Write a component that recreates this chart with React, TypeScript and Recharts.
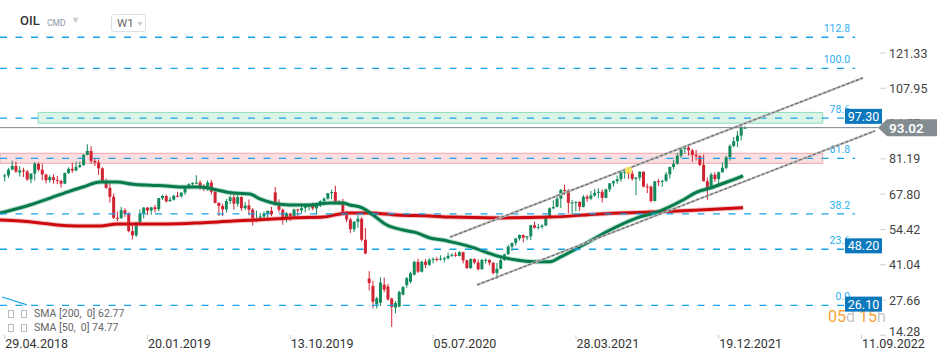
import React from 'react';
import { ComposedChart, Bar, Line, XAxis, YAxis, ReferenceLine, ReferenceArea, ReferenceDot } from 'recharts';

// weekly candles [open, high, low, close]; week 0 starts 29.04.2018
const candles2018 = [
  [74.6, 75.5, 72.6, 74.9], [74.9, 77.8, 73.9, 77.1], [77.1, 80.5, 76.9, 78.5], [78.5, 80.1, 75.8, 76.4],
  [76.0, 78.4, 74.5, 76.8], [76.8, 77.8, 74.3, 76.5], [76.4, 77.0, 72.8, 73.4], [73.4, 75.7, 71.9, 75.6],
  [75.6, 79.9, 73.0, 79.4], [79.3, 79.8, 76.5, 77.1], [77.1, 79.4, 73.1, 75.3], [75.2, 75.6, 71.9, 73.1],
  [73.1, 75.0, 72.2, 74.3], [74.2, 75.3, 71.8, 73.2], [73.2, 74.7, 71.6, 72.8], [72.8, 73.3, 70.3, 71.8],
  [71.8, 76.0, 71.6, 75.8], [75.8, 78.0, 75.5, 77.4], [77.4, 79.7, 75.9, 76.8], [76.8, 80.1, 76.4, 78.1],
  [78.1, 80.1, 77.7, 78.8], [78.8, 83.0, 78.5, 82.7], [82.7, 86.7, 82.5, 84.2], [84.2, 86.0, 79.4, 80.4],
  [80.4, 81.5, 78.5, 79.8], [79.8, 80.9, 75.1, 77.6], [77.6, 78.0, 72.2, 72.8], [72.8, 73.7, 69.8, 70.2],
  [70.2, 72.0, 64.6, 66.8], [66.8, 68.0, 58.4, 58.8], [58.8, 61.3, 57.5, 58.7], [58.7, 63.0, 58.4, 61.7],
  [61.7, 62.4, 59.1, 60.3], [60.3, 60.9, 53.3, 53.8], [53.8, 56.1, 50.6, 52.2],
];
const candles2019 = [
  [52.2, 57.3, 51.6, 57.1], [57.1, 62.0, 56.9, 60.5], [60.5, 62.9, 58.6, 62.7], [62.7, 62.9, 59.9, 61.6],
  [61.6, 63.0, 60.0, 62.8], [62.8, 63.7, 60.9, 62.1], [62.1, 66.4, 61.3, 66.3], [66.3, 67.6, 65.6, 67.1],
  [67.1, 67.7, 64.6, 65.1], [65.1, 66.8, 64.9, 65.7], [65.7, 67.6, 65.4, 67.2], [67.2, 68.7, 66.6, 67.0],
  [67.0, 68.4, 66.5, 68.4], [68.4, 70.4, 67.5, 70.3], [70.3, 71.9, 69.9, 71.6], [71.6, 72.3, 70.4, 72.0],
  [72.0, 75.0, 71.6, 72.2], [72.2, 73.0, 69.5, 70.9], [70.9, 71.6, 68.9, 70.6], [70.6, 73.0, 69.1, 72.2],
  [72.2, 73.2, 67.7, 68.7], [68.7, 70.1, 64.3, 64.5], [64.5, 64.7, 59.5, 63.3], [63.3, 64.2, 59.5, 62.0],
  [62.0, 66.0, 60.8, 65.2], [65.2, 67.2, 64.0, 66.6], [66.6, 67.6, 61.9, 64.2], [64.2, 67.5, 63.1, 66.7],
  [66.7, 67.0, 61.5, 62.5], [62.5, 64.8, 61.8, 63.5], [63.5, 65.8, 59.8, 61.9], [61.9, 62.5, 55.9, 58.5],
  [58.5, 61.6, 57.3, 58.6], [58.6, 60.7, 58.2, 59.3], [59.3, 61.2, 57.9, 60.4], [60.4, 61.5, 57.8, 61.5],
  [61.5, 63.0, 59.5, 60.2], [68.5, 70.5, 63.5, 64.3], [64.3, 65.8, 60.9, 61.9], [61.9, 62.3, 56.2, 58.4],
  [58.4, 61.0, 57.1, 60.5], [60.5, 60.6, 57.6, 59.4], [59.4, 62.3, 58.4, 62.0], [62.0, 62.3, 58.9, 61.7],
  [61.7, 63.5, 60.6, 62.5], [62.5, 63.3, 60.9, 63.3], [63.3, 64.0, 61.7, 63.4], [63.4, 64.6, 61.7, 62.4],
  [62.4, 64.6, 60.0, 64.4], [64.4, 65.5, 62.9, 65.2], [65.2, 66.5, 64.8, 66.1], [66.1, 68.2, 65.7, 68.2],
];
const candles2020 = [
  [68.2, 69.5, 65.9, 68.6], [68.6, 71.0, 64.3, 65.0], [65.0, 65.5, 63.7, 64.9], [64.9, 66.0, 60.5, 60.7],
  [60.7, 61.5, 57.1, 58.2], [58.2, 58.9, 53.1, 54.5], [54.5, 57.6, 53.4, 57.3], [57.3, 59.8, 55.1, 58.5],
  [58.5, 59.1, 49.9, 50.5], [50.5, 55.0, 45.0, 45.3], [35.8, 38.6, 31.3, 34.1], [33.0, 35.0, 24.5, 27.0],
  [26.0, 28.9, 24.4, 28.3], [26.6, 36.3, 25.4, 34.3], [33.5, 36.2, 30.6, 31.6], [32.8, 33.8, 27.4, 27.9],
  [28.2, 28.6, 17.4, 25.0], [24.8, 27.3, 22.6, 26.5], [25.2, 31.2, 24.9, 30.7], [29.7, 33.0, 29.4, 32.6],
  [33.3, 36.4, 32.3, 35.9], [34.6, 38.4, 34.0, 37.8], [37.3, 42.6, 36.9, 42.1], [42.1, 43.3, 37.9, 38.4],
  [38.4, 42.6, 38.1, 42.2], [42.2, 43.2, 39.8, 41.0], [41.0, 43.5, 40.6, 42.9], [42.9, 43.9, 41.5, 43.2],
  [43.2, 44.0, 42.3, 43.1], [43.1, 44.6, 42.6, 43.4], [43.4, 44.0, 41.9, 43.5], [43.5, 45.6, 43.0, 44.4],
  [44.4, 45.3, 44.0, 44.8], [44.8, 45.8, 44.0, 44.4], [44.4, 46.2, 44.2, 45.8], [45.8, 46.0, 41.5, 42.7],
  [42.7, 43.0, 39.4, 39.8], [39.8, 43.5, 39.4, 43.2], [43.2, 43.4, 41.2, 41.9], [41.9, 43.0, 38.9, 39.3],
  [39.3, 43.2, 39.2, 42.9], [42.8, 43.5, 41.5, 42.9], [42.9, 43.0, 40.7, 41.8], [41.8, 42.0, 37.3, 37.9],
  [37.9, 41.7, 35.7, 39.5], [39.5, 44.4, 39.4, 42.8], [42.8, 45.2, 42.5, 45.0], [45.0, 48.6, 44.8, 47.9],
  [47.9, 49.4, 46.2, 49.3], [49.3, 51.2, 48.3, 51.0], [51.0, 52.5, 50.2, 52.3], [52.3, 52.5, 49.5, 51.3],
  [51.3, 51.9, 50.3, 51.8],
];
const candles2021 = [
  [51.8, 56.2, 50.4, 56.0], [56.0, 57.4, 54.7, 55.1], [55.1, 56.6, 54.4, 55.4], [55.4, 56.4, 54.7, 55.9],
  [55.9, 59.8, 55.7, 59.3], [59.3, 62.8, 59.3, 62.4], [62.4, 65.5, 62.1, 62.9], [62.9, 67.7, 62.9, 66.1],
  [66.1, 69.8, 62.5, 69.4], [69.4, 71.4, 67.5, 69.2], [69.2, 69.7, 60.5, 64.5], [64.5, 65.6, 60.3, 64.6],
  [64.6, 65.0, 61.3, 64.9], [64.9, 65.0, 61.4, 63.0], [63.0, 67.5, 62.7, 66.8], [66.8, 67.6, 64.9, 66.1],
  [66.1, 69.0, 65.5, 67.3], [67.3, 69.8, 66.8, 68.3], [68.3, 70.0, 66.3, 68.7], [68.7, 69.6, 64.6, 66.4],
  [66.4, 69.9, 66.2, 69.6], [69.6, 72.0, 68.6, 71.9], [71.9, 73.0, 70.6, 72.7], [72.7, 74.9, 71.8, 73.5],
  [73.5, 76.2, 72.5, 76.2], [76.2, 76.6, 73.7, 76.2], [76.2, 77.8, 73.5, 75.6], [75.6, 76.8, 72.9, 73.6],
  [73.6, 74.2, 67.4, 74.1], [74.1, 76.5, 72.9, 76.3], [76.3, 76.4, 70.3, 70.7], [70.7, 71.8, 68.2, 70.6],
  [70.6, 71.2, 64.6, 65.2], [65.2, 72.7, 65.0, 72.7], [72.7, 73.6, 70.8, 72.6], [72.6, 73.2, 70.6, 72.9],
  [72.9, 76.2, 72.4, 75.3], [75.3, 78.3, 73.7, 78.1], [78.1, 80.8, 77.2, 79.3], [79.3, 83.5, 79.0, 82.4],
  [82.4, 85.1, 81.5, 84.9], [84.9, 86.1, 83.2, 85.5], [85.5, 86.7, 82.4, 84.4], [84.4, 85.0, 80.1, 82.7],
  [82.7, 84.6, 80.6, 82.2], [82.2, 82.6, 78.4, 78.9], [78.9, 82.8, 72.6, 72.7], [72.7, 74.1, 65.7, 69.9],
  [69.9, 76.0, 69.7, 75.2], [75.2, 76.1, 72.4, 73.5], [73.5, 76.4, 70.5, 76.1], [76.1, 79.8, 75.9, 77.8],
];
const candles2022 = [
  [77.8, 82.3, 77.2, 81.8], [81.8, 86.7, 80.5, 86.1], [86.1, 89.5, 85.6, 87.9], [87.9, 91.7, 85.7, 90.0],
  [90.0, 94.0, 88.2, 93.3], [92.9, 93.6, 92.6, 93.02],
];

// moving averages [week, value]
const sma200 = [
  [-1.25, 58.0], [4.1, 57.6], [9.4, 56.9], [13.9, 56.1], [19.2, 55.7], [25.4, 55.7], [29.9, 56.5],
  [36, 56.5], [43.2, 56.5], [52, 56.9], [60.8, 57.6], [67.1, 58.0], [75.9, 58.8], [84.7, 59.1],
  [89.2, 60.3], [91.9, 60.7], [97.2, 60.7], [104.4, 59.9], [113.2, 59.5], [118.5, 59.1], [131.8, 58.8],
  [145.1, 59.1], [158.4, 60.3], [171.7, 61.0], [185, 61.8], [196.5, 62.7],
];
const sma50 = [
  [-1.25, 60.6], [6.7, 63.7], [12.1, 66.3], [16.6, 68.6], [20.8, 70.5], [25.4, 72.4], [29.9, 72.4],
  [34.1, 71.6], [38.7, 71.2], [43.2, 70.9], [47.4, 70.5], [52, 70.5], [56.5, 69.4], [60.8, 68.2],
  [65.3, 67.9], [67.9, 66.0], [75.9, 63.7], [81.2, 63.7], [86.6, 64.4], [90, 64.4], [91.9, 63.7],
  [95.3, 62.5], [98, 59.9], [101.7, 56.1], [106, 54.2], [109.7, 53.1], [113.2, 51.2], [116.6, 50.4],
  [118.5, 49.8], [123.8, 47.9], [131.8, 44.1], [136.3, 42.8], [140.6, 42.2], [145.1, 42.2],
  [147.8, 43.9], [153.9, 48.5], [161.1, 54.2], [168.3, 58.8], [173.6, 61.0], [180.5, 65.6],
  [184.2, 68.6], [187.7, 70.1], [192.2, 72.4], [196.5, 74.77],
];

const dateTicks = [0, 38, 76, 114, 152, 190, 228];
const dateLabels = ['29.04.2018', '20.01.2019', '13.10.2019', '05.07.2020', '28.03.2021', '19.12.2021', '11.09.2022'];
const priceTicks = [14.28, 27.66, 41.04, 54.42, 67.8, 81.19, 94.57, 107.95, 121.33];

const fibNames = ['0.0', '23.6', '38.2', '61.8', '78.6', '100.0', '112.8'];
const fibPrices = [25.65, 46.9, 60.3, 81.4, 96.6, 115.5, 127.3];

const channelUpper = [[118.5, 51.5], [228.4, 111.9]];
const channelLower = [[125.7, 33.4], [231.6, 91.8]];
const blueSegment = [[-0.7, 28.8], [5.9, 25.8]];

const greenZone = [94.7, 98.8];
const pinkZone = [79.5, 83.3];
const priceTags = [26.1, 48.2, 97.3];
const lastPrice = 93.02;
const markerWeek = [166, 76.9];

const GREEN = '#138a5b';
const RED = '#d22333';
const FIB = '#17a3e8';
const X_MIN = -1.25;
const X_MAX = 232.4;
const LEVEL_END = 226.3;
const ZONE_END = 217.7;

const rows = [...candles2018, ...candles2019, ...candles2020, ...candles2021, ...candles2022].map(([o, h, l, c], i) => ({
  i, o, h, l, c, range: [l, h],
}));
const sma200Data = sma200.map(([i, v]) => ({ i, v }));
const sma50Data = sma50.map(([i, v]) => ({ i, v }));
// axis ticks: plain prices first, tags last so they paint on top
const axisTicks = [...priceTicks, ...priceTags, lastPrice];

const Candle = (props: any) => {
  const { x, y, width, height, payload } = props;
  if (!payload || height == null) return null;
  const { o, h, l, c } = payload;
  const color = c >= o ? GREEN : RED;
  const k = h === l ? 0 : height / (h - l);
  const top = y + (h - Math.max(o, c)) * k;
  const bot = y + (h - Math.min(o, c)) * k;
  const cx = x + width / 2;
  return (
    <g>
      <line x1={cx} x2={cx} y1={y} y2={y + height} stroke={color} strokeWidth={1} />
      <rect x={cx - 1.5} y={top} width={3} height={Math.max(1, bot - top)} fill={color} />
    </g>
  );
};

const DateTick = ({ x, y, payload }: any) => {
  const idx = dateTicks.indexOf(payload.value);
  return (
    <g>
      <line x1={x} x2={x} y1={y - 1} y2={y + 3} stroke="#ccc" />
      <text x={x + 0.5} y={y + 12} fontSize={12.5} fill="#333">{dateLabels[idx]}</text>
    </g>
  );
};

const PriceTick = ({ x, y, payload }: any) => {
  const v = payload.value;
  if (v === lastPrice) {
    return (
      <g>
        <polygon points={`${x},${y} ${x + 9},${y - 8.5} ${x + 59},${y - 8.5} ${x + 59},${y + 8.5} ${x + 9},${y + 8.5}`} fill="#838c91" />
        <text x={x + 11} y={y + 5} fontSize={13.5} fontWeight={600} fill="#fff">{v.toFixed(2)}</text>
      </g>
    );
  }
  if (priceTags.includes(v)) {
    return (
      <g>
        <rect x={x - 33} y={y - 7.5} width={37} height={15} fill="#0b78bd" />
        <text x={x - 14.5} y={y + 4.5} textAnchor="middle" fontSize={12.5} fill="#fff">{v.toFixed(2)}</text>
      </g>
    );
  }
  const dy = v === priceTicks[0] ? -3.5 : 0;
  return (
    <g>
      <line x1={x + 2} x2={x + 8} y1={y} y2={y} stroke="#d0d0d0" />
      <text x={x + 11} y={y + 4.5 + dy} fontSize={12.5} fill="#444">{v.toFixed(2)}</text>
    </g>
  );
};

const fibLabel = (name: string) => (props: any) => {
  const vb = props.viewBox;
  return (
    <text x={vb.x + vb.width - 5} y={vb.y - 5} textAnchor="end" fontSize={10.5} fill="#2aaef0">{name}</text>
  );
};

const Box = () => (
  <span style={{ display: 'inline-block', width: 4, height: 6, border: '1px solid #bbb', marginRight: 7, verticalAlign: 'middle' }} />
);

export default function App() {
  return (
    <div style={{ position: 'absolute', left: 0, top: 0, width: 950, height: 361, fontFamily: 'Roboto, sans-serif', background: '#fff' }}>
      <div style={{ position: 'absolute', left: 828, top: 308, fontSize: 16, lineHeight: '18px', whiteSpace: 'nowrap', zIndex: 0 }}>
        <span style={{ color: '#f7a336' }}>05</span>
        <span style={{ color: '#c8c8c8' }}>d </span>
        <span style={{ color: '#f7a336' }}>15</span>
        <span style={{ color: '#c8c8c8' }}>h</span>
      </div>

      <div style={{ position: 'absolute', left: 0, top: 0, zIndex: 1 }}>
        <ComposedChart width={950} height={361} data={rows} margin={{ top: 0, right: 0, bottom: 0, left: 0 }}>
          <XAxis
            type="number"
            dataKey="i"
            domain={[X_MIN, X_MAX]}
            allowDataOverflow
            ticks={dateTicks}
            interval={0}
            height={25}
            axisLine={false}
            tickLine={false}
            tickSize={0}
            tickMargin={0}
            tick={<DateTick />}
          />
          <YAxis
            orientation="right"
            domain={[14.01, 141.43]}
            allowDataOverflow
            ticks={axisTicks}
            interval={0}
            width={72}
            axisLine={false}
            tickLine={false}
            tickSize={0}
            tickMargin={0}
            tick={<PriceTick />}
          />
          <Bar dataKey="range" barSize={3} shape={<Candle />} isAnimationActive={false} />
          <ReferenceArea x1={8.9} x2={ZONE_END} y1={greenZone[0]} y2={greenZone[1]} fill="#c6efdc" fillOpacity={0.65} stroke="#8fdcb9" strokeWidth={1} />
          <ReferenceArea x1={X_MIN} x2={ZONE_END} y1={pinkZone[0]} y2={pinkZone[1]} fill="#f8cdd1" fillOpacity={0.65} stroke="#f0a7ae" strokeWidth={1} />
          <Line data={sma200Data} dataKey="v" type="monotone" stroke="#e06060" strokeOpacity={0.35} strokeWidth={5} dot={false} isAnimationActive={false} />
          <Line data={sma200Data} dataKey="v" type="monotone" stroke="#cc0a0f" strokeWidth={3} dot={false} isAnimationActive={false} />
          <Line data={sma50Data} dataKey="v" type="monotone" stroke="#3aa57a" strokeOpacity={0.35} strokeWidth={5} dot={false} isAnimationActive={false} />
          <Line data={sma50Data} dataKey="v" type="monotone" stroke="#087a4c" strokeWidth={3} dot={false} isAnimationActive={false} />
          {fibPrices.map((p, k) => (
            <ReferenceLine key={fibNames[k]} segment={[{ x: X_MIN, y: p }, { x: LEVEL_END, y: p }]} stroke={FIB} strokeWidth={1.3} strokeDasharray="7 8.5" label={fibLabel(fibNames[k])} />
          ))}
          {[channelUpper, channelLower].map((seg, k) => (
            <ReferenceLine key={'c' + k} segment={[{ x: seg[0][0], y: seg[0][1] }, { x: seg[1][0], y: seg[1][1] }]} stroke="#bdbdbd" strokeWidth={2.2} />
          ))}
          {[channelUpper, channelLower].map((seg, k) => (
            <ReferenceLine key={'d' + k} segment={[{ x: seg[0][0], y: seg[0][1] }, { x: seg[1][0], y: seg[1][1] }]} stroke="#666" strokeWidth={1.1} strokeDasharray="3 2" />
          ))}
          <ReferenceLine segment={[{ x: blueSegment[0][0], y: blueSegment[0][1] }, { x: blueSegment[1][0], y: blueSegment[1][1] }]} stroke={FIB} strokeWidth={1.2} />
          <ReferenceDot x={markerWeek[0]} y={markerWeek[1]} r={3.5} fill="#ffe94d" fillOpacity={0.85} stroke="none" />
          <ReferenceLine y={lastPrice} stroke="#7b858b" strokeWidth={1} />
        </ComposedChart>
      </div>

      <div style={{ position: 'absolute', left: 20, top: 13, fontSize: 13, fontWeight: 500, color: '#333', zIndex: 2 }}>OIL</div>
      <div style={{ position: 'absolute', left: 47, top: 18, fontSize: 8.5, color: '#8a96a6', zIndex: 2 }}>CMD</div>
      <div style={{ position: 'absolute', left: 71, top: 15, fontSize: 9, color: '#c9cdd2', zIndex: 2 }}>▼</div>
      <div style={{ position: 'absolute', left: 111, top: 14, width: 35, height: 18, border: '1px solid #dde1e6', borderRadius: 3, background: '#fff', fontSize: 11.5, color: '#666', boxSizing: 'border-box', paddingLeft: 5, lineHeight: '16px', whiteSpace: 'nowrap', zIndex: 2 }}>
        W1 <span style={{ fontSize: 7, color: '#c3c7cc', verticalAlign: 'middle' }}>▼</span>
      </div>

      <div style={{ position: 'absolute', left: 8, top: 307, fontSize: 10.5, color: '#666', lineHeight: '14px', whiteSpace: 'nowrap', zIndex: 2 }}>
        <div><Box /><Box />SMA [200,&nbsp; 0] 62.77</div>
        <div><Box /><Box />SMA [50,&nbsp; 0] 74.77</div>
      </div>
    </div>
  );
}
